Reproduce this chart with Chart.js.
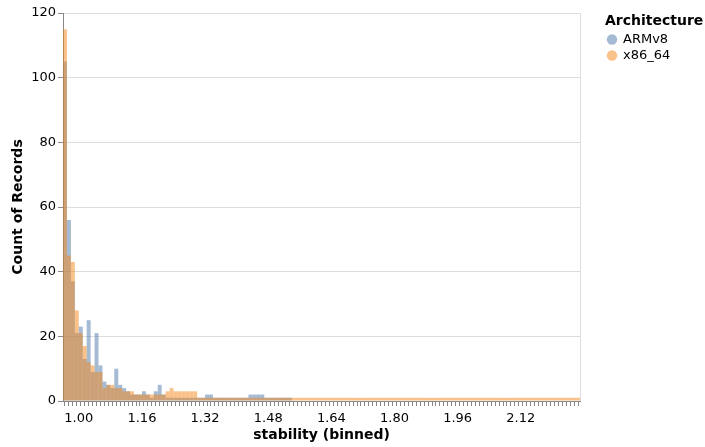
<!DOCTYPE html>
<html>
<head>
<meta charset="utf-8">
<script src="https://cdn.jsdelivr.net/npm/chart.js@4.4.1/dist/chart.umd.min.js"></script>
<style>
  html, body { margin: 0; padding: 0; background: #fff; }
  #wrap { width: 705px; height: 447px; }
</style>
</head>
<body>
<div id="wrap"><canvas id="chart" width="705" height="447"></canvas></div>
<script>
// bins of 0.01 starting at 0.96 (131 bins, last one ends at 2.27)
const binStart = 0.96;
const binStep = 0.01;
const series = ['ARMv8', 'x86_64'];
const tickLabels = ['1.00', '1.16', '1.32', '1.48', '1.64', '1.80', '1.96', '2.12'];

const armCounts = [
  105, 56, 37, 21, 23, 13, 25, 9, 21, 11,
  6, 5, 4, 10, 5, 4, 3, 2, 2, 2,
  3, 2, 1, 3, 5, 2, 1, 1, 1, 1,
  1, 1, 1, 1, 1, 1, 2, 2, 1, 1,
  1, 1, 1, 1, 1, 1, 1, 2, 2, 2,
  2, 1, 1, 1, 1, 1, 1, 1, 0, 0,
  0, 0, 0, 0, 0, 0, 0, 0, 0, 0,
  0, 0, 0, 0, 0, 0, 0, 0, 0, 0,
  0, 0, 0, 0, 0, 0, 0, 0, 0, 0,
  0, 0, 0, 0, 0, 0, 0, 0, 0, 0,
  0, 0, 0, 0, 0, 0, 0, 0, 0, 0,
  0, 0, 0, 0, 0, 0, 0, 0, 0, 0,
  0, 0, 0, 0, 0, 0, 0, 0, 0, 0,
  0
];

const x86Counts = [
  115, 45, 43, 28, 21, 17, 12, 11, 9, 9,
  4, 5, 5, 4, 4, 3, 3, 3, 2, 2,
  2, 2, 2, 2, 2, 2, 3, 4, 3, 3,
  3, 3, 3, 3, 1, 1, 1, 1, 1, 1,
  1, 1, 1, 1, 1, 1, 1, 1, 1, 1,
  1, 1, 1, 1, 1, 1, 1, 1, 1, 1,
  1, 1, 1, 1, 1, 1, 1, 1, 1, 1,
  1, 1, 1, 1, 1, 1, 1, 1, 1, 1,
  1, 1, 1, 1, 1, 1, 1, 1, 1, 1,
  1, 1, 1, 1, 1, 1, 1, 1, 1, 1,
  1, 1, 1, 1, 1, 1, 1, 1, 1, 1,
  1, 1, 1, 1, 1, 1, 1, 1, 1, 1,
  1, 1, 1, 1, 1, 1, 1, 1, 1, 1,
  1
];

const colors = ['rgba(76,120,168,0.5)', 'rgba(245,133,24,0.5)'];

const binCenters = armCounts.map((_, i) => +(binStart + binStep * (i + 0.5)).toFixed(3));
const binEnd = +(binStart + binStep * armCounts.length).toFixed(2);

const toPoints = counts => counts.map((c, i) => ({ x: binCenters[i], y: c }));

Chart.defaults.font.family = 'DejaVu Sans';
Chart.defaults.color = '#000';

// light frame on the right edge of the plot, like the vega view stroke
const viewFrame = {
  id: 'viewFrame',
  beforeDatasetsDraw(chart) {
    const { ctx, chartArea: a } = chart;
    ctx.save();
    ctx.strokeStyle = '#ddd';
    ctx.lineWidth = 1;
    ctx.beginPath();
    ctx.moveTo(Math.round(a.right) + 0.5, a.top);
    ctx.lineTo(Math.round(a.right) + 0.5, a.bottom);
    ctx.stroke();
    ctx.restore();
  }
};

const sideLegend = {
  id: 'sideLegend',
  afterDraw(chart) {
    const ctx = chart.ctx;
    ctx.save();
    ctx.fillStyle = '#000';
    ctx.font = 'bold 14px "DejaVu Sans"';
    ctx.textBaseline = 'alphabetic';
    ctx.fillText('Architecture', 605, 25);
    ctx.font = '13px "DejaVu Sans"';
    ctx.textBaseline = 'middle';
    series.forEach((name, i) => {
      const y = 39.5 + i * 16;
      ctx.beginPath();
      ctx.arc(612, y, 5.2, 0, Math.PI * 2);
      ctx.fillStyle = colors[i];
      ctx.fill();
      ctx.fillStyle = '#000';
      ctx.fillText(name, 623, y);
    });
    ctx.restore();
  }
};

new Chart(document.getElementById('chart'), {
  type: 'bar',
  data: {
    datasets: [
      { label: series[0], data: toPoints(armCounts), backgroundColor: colors[0], order: 1 },
      { label: series[1], data: toPoints(x86Counts), backgroundColor: colors[1], order: 0 }
    ]
  },
  options: {
    responsive: false,
    animation: false,
    events: [],
    layout: { padding: { top: 13, right: 125, left: 0, bottom: 0 } },
    datasets: {
      bar: { grouped: false, barPercentage: 1, categoryPercentage: 1, borderWidth: 0, inflateAmount: 0 }
    },
    plugins: {
      legend: { display: false },
      tooltip: { enabled: false }
    },
    scales: {
      x: {
        type: 'linear',
        min: binStart,
        max: binEnd,
        offset: false,
        grid: { drawOnChartArea: false, tickLength: 5, tickColor: '#888' },
        border: { color: '#888' },
        ticks: {
          stepSize: binStep,
          autoSkip: false,
          maxRotation: 0,
          minRotation: 0,
          padding: 5,
          font: { size: 13 },
          callback: v => {
            const s = (+v).toFixed(2);
            return tickLabels.includes(s) ? s : '';
          }
        },
        title: {
          display: true,
          text: 'stability (binned)',
          font: { size: 14, weight: 'bold' },
          padding: { top: 0, bottom: 3 }
        },
        afterFit: s => { s.height = 46; }
      },
      y: {
        type: 'linear',
        min: 0,
        max: 120,
        grid: { color: '#ddd', tickLength: 5, tickColor: '#888' },
        border: { color: '#888' },
        ticks: { stepSize: 20, padding: 2, font: { size: 13 } },
        title: {
          display: true,
          text: 'Count of Records',
          font: { size: 14, weight: 'bold' },
          padding: { top: 10, bottom: 0 }
        },
        afterFit: s => { s.width = 63; }
      }
    }
  },
  plugins: [viewFrame, sideLegend]
});
</script>
</body>
</html>
